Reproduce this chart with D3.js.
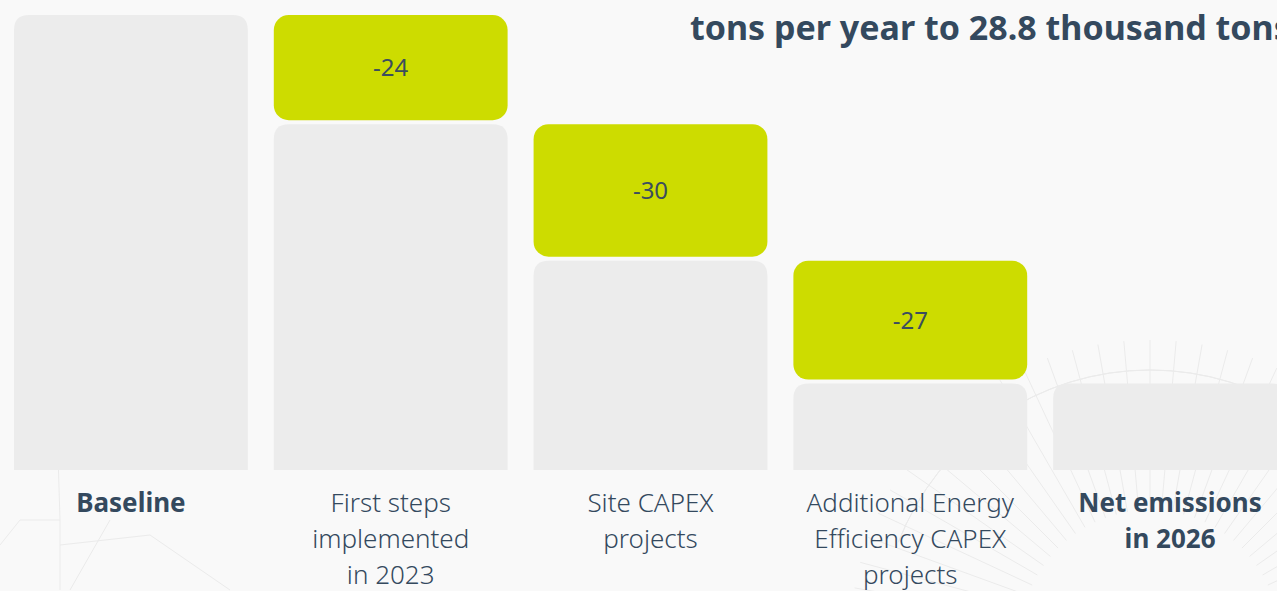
<!DOCTYPE html>
<html>
<head>
<meta charset="utf-8">
<script src="https://cdn.jsdelivr.net/npm/d3@7"></script>
<style>
  html, body { margin: 0; padding: 0; background: #f9f9f9; overflow: hidden; }
  text { font-family: "Noto Sans", "DejaVu Sans", sans-serif; }
</style>
</head>
<body>
<div id="chart"></div>
<script>
const categories = ["Baseline", "First steps implemented in 2023", "Site CAPEX projects",
  "Additional Energy Efficiency CAPEX projects", "Net emissions in 2026"];
const labelLines = [["Baseline"], ["First steps", "implemented", "in 2023"], ["Site CAPEX", "projects"],
  ["Additional Energy", "Efficiency CAPEX", "projects"], ["Net emissions", "in 2026"]];
const boldLabel = [true, false, false, false, true];
const baseline = 100;
const reductions = [null, -24, -30, -27, null];
const netValue = 19;
const title = "tons per year to 28.8 thousand tons";

const width = 1277;
const height = 591;

const svg = d3.select("#chart")
  .append("svg")
  .attr("width", width)
  .attr("height", height)
  .attr("viewBox", `0 0 ${width} ${height}`);

svg.append("rect").attr("width", width).attr("height", height).attr("fill", "#f9f9f9");

// faint background line art
const deco = svg.append("g").attr("stroke", "#ebebeb").attr("fill", "none").attr("stroke-width", 1);
d3.range(-80, 81, 5).forEach(a => {
  const r = a * Math.PI / 180;
  deco.append("line")
    .attr("x1", 1150 + Math.sin(r) * 130).attr("y1", 640 - Math.cos(r) * 130)
    .attr("x2", 1150 + Math.sin(r) * 300).attr("y2", 640 - Math.cos(r) * 300);
});
deco.append("path").attr("d", d3.arc()({innerRadius: 270, outerRadius: 270, startAngle: -1.2, endAngle: 1.2}))
  .attr("transform", "translate(1150,640)");
deco.append("path").attr("d", "M0,545 L20,520 L60,520 L58,455 L25,460 M60,520 L60,590 M60,545 L150,535 L230,590 M70,590 L110,520");

// running totals
const data = [];
let running = baseline;
categories.forEach((c, i) => {
  if (i === 0) data.push({cat: c, start: baseline, end: baseline, delta: null});
  else if (i === categories.length - 1) data.push({cat: c, start: netValue, end: netValue, delta: null});
  else {
    const next = running + reductions[i];
    data.push({cat: c, start: running, end: next, delta: reductions[i]});
    running = next;
  }
});

const x = d3.scaleBand()
  .domain(categories)
  .range([14, 1287])
  .paddingInner(0.1)
  .paddingOuter(0);

const y = d3.scaleLinear()
  .domain([0, baseline])
  .range([470, 15]);

const rad = 15;
function topRounded(x0, y0, w, h, r) {
  return `M${x0},${y0 + h} L${x0},${y0 + r} Q${x0},${y0} ${x0 + r},${y0} L${x0 + w - r},${y0} Q${x0 + w},${y0} ${x0 + w},${y0 + r} L${x0 + w},${y0 + h} Z`;
}

// gray bars
svg.append("g").selectAll("path")
  .data(data)
  .join("path")
  .attr("fill", "#ececec")
  .attr("d", d => topRounded(x(d.cat), y(d.end), x.bandwidth(), y(0) - y(d.end), rad));

// green reduction bars
const steps = data.filter(d => d.delta !== null);
svg.append("g").selectAll("rect")
  .data(steps)
  .join("rect")
  .attr("x", d => x(d.cat))
  .attr("y", d => y(d.start))
  .attr("width", x.bandwidth())
  .attr("height", d => y(d.end) - y(d.start) - 4)
  .attr("rx", rad)
  .attr("fill", "#cddc00");

svg.append("g").selectAll("text")
  .data(steps)
  .join("text")
  .attr("x", d => x(d.cat) + x.bandwidth() / 2)
  .attr("y", d => (y(d.start) + y(d.end) - 4) / 2)
  .attr("dy", "0.35em")
  .attr("text-anchor", "middle")
  .attr("font-size", 24)
  .attr("font-weight", 400)
  .attr("fill", "#3b4d5e")
  .text(d => String(d.delta));

// category labels
const lab = svg.append("g").selectAll("text")
  .data(categories)
  .join("text")
  .attr("x", d => x(d) + x.bandwidth() / 2)
  .attr("y", 512)
  .attr("text-anchor", "middle")
  .attr("font-size", 26)
  .attr("font-weight", (d, i) => boldLabel[i] ? 700 : 300)
  .attr("fill", "#34495e");
lab.each(function(d, i) {
  d3.select(this).selectAll("tspan")
    .data(labelLines[i])
    .join("tspan")
    .attr("x", x(d) + x.bandwidth() / 2)
    .attr("dy", (t, j) => j === 0 ? 0 : 36)
    .text(t => t);
});

// title fragment
svg.append("text")
  .attr("x", 690)
  .attr("y", 40)
  .attr("font-size", 34)
  .attr("font-weight", 700)
  .attr("fill", "#34495e")
  .text(title);
</script>
</body>
</html>
